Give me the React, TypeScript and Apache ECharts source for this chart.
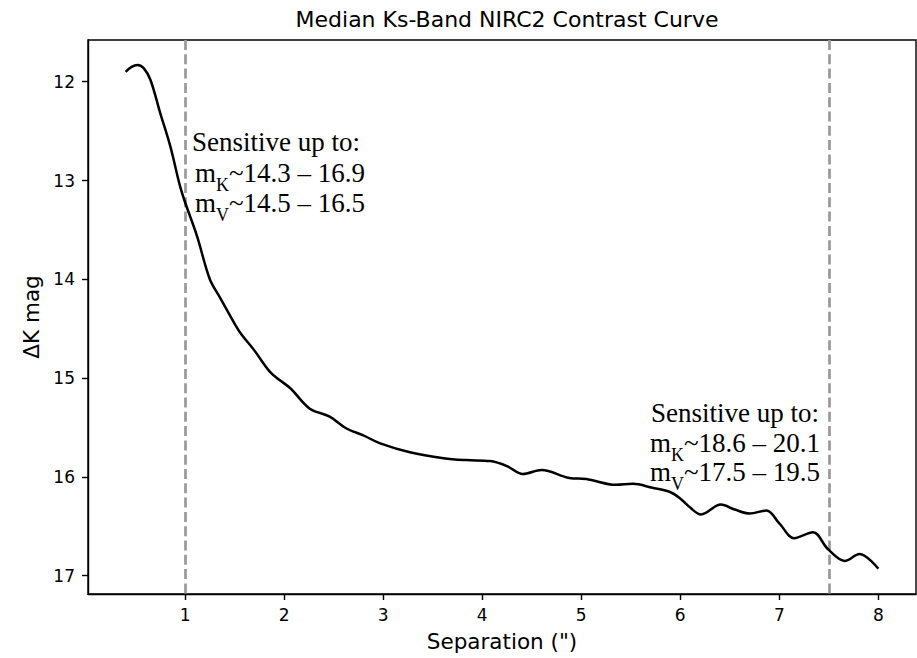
import React, { useEffect, useRef } from "react";
import * as echarts from "echarts";

// Separation (arcsec) and median Ks-band contrast (delta K mag)
const separation = [
  0.40, 0.46, 0.52, 0.58, 0.65, 0.75, 0.85, 0.95, 1.00, 1.12, 1.25, 1.35, 1.45,
  1.55, 1.70, 1.87, 2.06, 2.26, 2.46, 2.63, 2.80, 2.97, 3.27, 3.61, 3.84, 4.08,
  4.25, 4.41, 4.60, 4.88, 5.05, 5.35, 5.52, 5.72, 5.89, 5.99, 6.10, 6.21, 6.41,
  6.55, 6.70, 6.87, 7.00, 7.15, 7.34, 7.49, 7.66, 7.81, 8.00,
];
const deltaK = [
  11.90, 11.85, 11.83, 11.86, 11.98, 12.32, 12.65, 13.06, 13.22, 13.56, 14.00, 14.18, 14.36,
  14.53, 14.72, 14.95, 15.10, 15.31, 15.39, 15.51, 15.58, 15.66, 15.75, 15.81, 15.83, 15.84,
  15.89, 15.97, 15.93, 16.01, 16.02, 16.08, 16.07, 16.11, 16.15, 16.21, 16.31, 16.38, 16.28,
  16.33, 16.37, 16.34, 16.47, 16.62, 16.56, 16.73, 16.85, 16.78, 16.93,
];
const xTicks = [1, 2, 3, 4, 5, 6, 7, 8];
const yTicks = [12, 13, 14, 15, 16, 17];
const limitSeparations = [1.0, 7.5];

const headerText = "Sensitive up to:";
const innerRanges = [
  ["K", "~14.3 – 16.9"],
  ["V", "~14.5 – 16.5"],
];
const outerRanges = [
  ["K", "~18.6 – 20.1"],
  ["V", "~17.5 – 19.5"],
];

const SANS = "DejaVu Sans";
const SERIF = "Liberation Serif";
const NOTE_SIZE = 27;

const rich = {
  a: { fontFamily: SERIF, fontSize: NOTE_SIZE, lineHeight: 32, color: "#000" },
  s: { fontFamily: SERIF, fontSize: 18, lineHeight: 8, height: 8, verticalAlign: "bottom", color: "#000" },
};

function noteLine(x: number, y: number, align: string, sub: string, rest: string) {
  return {
    type: "text",
    silent: true,
    style: {
      x,
      y,
      text: `{a|m}{s|${sub}}{a|${rest}}`,
      rich,
      align,
      verticalAlign: "middle",
      fill: "#000",
    },
  };
}
function headLine(x: number, y: number, align: string) {
  return {
    type: "text",
    silent: true,
    style: {
      x,
      y,
      text: headerText,
      fontFamily: SERIF,
      fontSize: NOTE_SIZE,
      fill: "#000",
      align,
      verticalAlign: "middle",
    },
  };
}

export default function App() {
  const ref = useRef<HTMLDivElement>(null);
  useEffect(() => {
    if (!ref.current) return;
    const chart = echarts.init(ref.current, null, { renderer: "svg" });
    const labelStyle = { fontFamily: SANS, fontSize: 17, color: "#000" };
    const nameStyle = { fontFamily: SANS, fontSize: 21.5, color: "#000" };
    chart.setOption({
      animation: false,
      backgroundColor: "#fff",
      title: {
        text: "Median Ks-Band NIRC2 Contrast Curve",
        left: 502,
        top: 3,
        textAlign: "center",
        textStyle: { fontFamily: SANS, fontSize: 22, fontWeight: "normal", color: "#000" },
      },
      grid: {
        left: 88,
        right: 1,
        top: 40,
        bottom: 64,
        show: true,
        borderColor: "#000",
        borderWidth: 1.4,
        backgroundColor: "transparent",
      },
      xAxis: {
        type: "value",
        min: 0.02,
        max: 8.38,
        name: 'Separation (")',
        nameLocation: "middle",
        nameGap: 36,
        nameTextStyle: nameStyle,
        splitLine: { show: false },
        axisLine: { show: true, onZero: false, lineStyle: { color: "#000", width: 1.4 } },
        axisTick: { show: true, length: 6, lineStyle: { color: "#000", width: 1.4 }, customValues: xTicks },
        axisLabel: { ...labelStyle, margin: 12, customValues: xTicks },
      },
      yAxis: {
        type: "value",
        inverse: true,
        min: 11.578,
        max: 17.185,
        name: "ΔK mag",
        nameLocation: "middle",
        nameGap: 46,
        nameTextStyle: nameStyle,
        splitLine: { show: false },
        axisLine: { show: true, onZero: false, lineStyle: { color: "#000", width: 1.4 } },
        axisTick: { show: true, length: 6, lineStyle: { color: "#000", width: 1.4 }, customValues: yTicks },
        axisLabel: { ...labelStyle, margin: 13, customValues: yTicks },
      },
      series: [
        {
          type: "line",
          data: separation.map((x, i) => [x, deltaK[i]]),
          showSymbol: false,
          symbol: "none",
          smooth: 0.35,
          lineStyle: { color: "#000", width: 2.5 },
          z: 3,
          markLine: {
            silent: true,
            symbol: "none",
            label: { show: false },
            lineStyle: { color: "#999", width: 2.7, type: [10, 4.3] },
            data: limitSeparations.map((v) => ({ xAxis: v })),
            z: 2,
          },
        },
      ],
      graphic: [
        headLine(192, 141.8, "left"),
        noteLine(195, 172.8, "left", innerRanges[0][0], innerRanges[0][1]),
        noteLine(195, 202.8, "left", innerRanges[1][0], innerRanges[1][1]),
        headLine(819, 412.8, "right"),
        noteLine(820, 442.8, "right", outerRanges[0][0], outerRanges[0][1]),
        noteLine(820, 471.8, "right", outerRanges[1][0], outerRanges[1][1]),
      ],
    });
    return () => chart.dispose();
  }, []);
  return (
    <div
      ref={ref}
      style={{ position: "fixed", left: 0, top: 0, width: 917, height: 658, background: "#fff" }}
    />
  );
}
